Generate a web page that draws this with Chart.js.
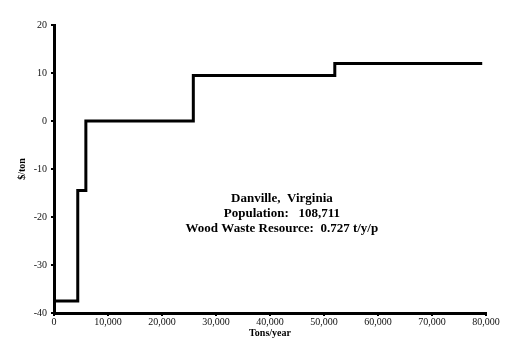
<!DOCTYPE html>
<html>
	<head>
	<meta charset="utf-8">
	<title>Danville wood waste supply curve</title>
		<script src="https://cdn.jsdelivr.net/npm/chart.js@4/dist/chart.umd.min.js"></script>
		<style>
			body { margin: 0; background: #fff; }
			#wrap { width: 506px; height: 339px; }
		</style>
	</head>
	<body>
		<div id="wrap"><canvas id="myChart" width="506" height="339"></canvas></div>

		<script>
			// cumulative supply (tons/year) and cost ($/ton) at each step
			let tons = [0, 4400, 5900, 25800, 52000, 79300];
			let cost = [-37.5, -14.5, 0, 9.5, 12, 12];
			let xTicks = [0, 10000, 20000, 30000, 40000, 50000, 60000, 70000, 80000];
			let yTicks = [-40, -30, -20, -10, 0, 10, 20];
			let noteLines = ["Danville,  Virginia", "Population:   108,711", "Wood Waste Resource:  0.727 t/y/p"];
			let notePos = { x: 42200, y: [-16.2, -19.3, -22.4] };

			let points = [];
			for(let i = 0; i < tons.length; i++){
				points.push({x: tons[i], y: cost[i]});
			}

			const serif = "'Liberation Serif', 'Times New Roman', serif";

			// text block in the middle of the plot
			const notePlugin = {
				id: 'note',
				afterDraw(chart){
					const c = chart.ctx;
					const xs = chart.scales.x, ys = chart.scales.y;
					c.save();
					c.font = "bold 13px " + serif;
					c.fillStyle = "#000";
					c.textAlign = "center";
					c.textBaseline = "middle";
					for(let i = 0; i < noteLines.length; i++){
						c.fillText(noteLines[i], xs.getPixelForValue(notePos.x), ys.getPixelForValue(notePos.y[i]));
					}
					c.restore();
				}
			};

			let ctx = document.getElementById('myChart').getContext('2d');
			let myChart = new Chart(ctx, {
				type: 'scatter',
				data: {
					datasets: [{
						data: points,
						showLine: true,
						stepped: 'before',
						borderColor: '#000',
						borderWidth: 3,
						pointRadius: 0,
						fill: false
					}]
				},
				plugins: [notePlugin],
				options: {
					responsive: false,
					animation: false,
					layout: { padding: { top: 25, right: 20, left: 16, bottom: 0 } },
					plugins: { legend: { display: false }, tooltip: { enabled: false } },
					scales: {
						x: {
							type: 'linear',
							min: 0, max: 80000,
							afterBuildTicks: function(s){ s.ticks = xTicks.map(v => ({value: v})); },
							ticks: {
								font: { family: serif, size: 10 },
								color: '#111',
								padding: 0,
								maxRotation: 0,
								callback: v => v.toLocaleString('en-US')
							},
							grid: { drawOnChartArea: false, drawTicks: true, tickLength: 3, color: '#000', lineWidth: 2 },
							border: { display: true, color: '#000', width: 3 },
							title: { display: true, text: 'Tons/year', font: { family: serif, size: 10, weight: 'bold' }, color: '#000', padding: { top: 2, bottom: 0 } },
							afterFit: function(s){ s.height = 26; }
						},
						y: {
							type: 'linear',
							min: -40, max: 20,
							afterBuildTicks: function(s){ s.ticks = yTicks.map(v => ({value: v})); },
							ticks: {
								font: { family: serif, size: 10 },
								color: '#111',
								padding: 4
							},
							grid: { drawOnChartArea: false, drawTicks: true, tickLength: 3, color: '#000', lineWidth: 2 },
							border: { display: true, color: '#000', width: 3 },
							title: { display: true, text: '$/ton', font: { family: serif, size: 10, weight: 'bold' }, color: '#000', padding: 0 },
							afterFit: function(s){ s.width = 38; }
						}
					}
				}
			});
		</script>
	</body>
</html>
